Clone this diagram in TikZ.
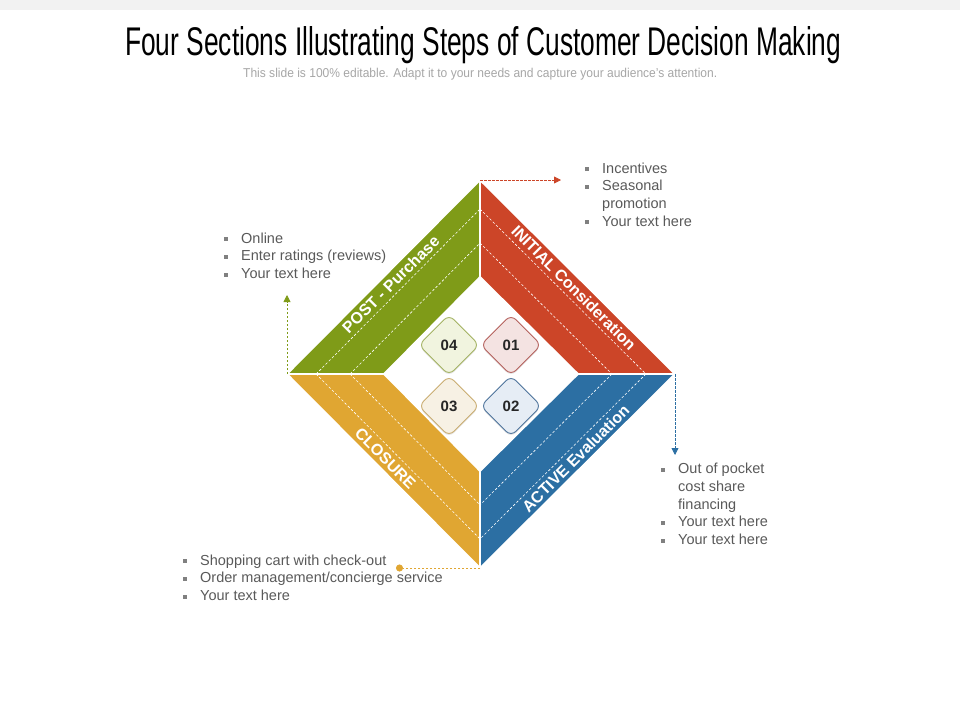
\documentclass[tikz,border=0pt]{standalone}
\usepackage{fontspec}
\setmainfont{Liberation Sans}
\usetikzlibrary{calc,shapes.geometric,arrows.meta,shadows}
\definecolor{postgreen}{HTML}{7F9B18}
\definecolor{initred}{HTML}{CC4528}
\definecolor{activeblue}{HTML}{2C6FA3}
\definecolor{closeyellow}{HTML}{E0A632}
\definecolor{notegray}{HTML}{595959}
\definecolor{bulletgray}{HTML}{808080}
\definecolor{subgray}{HTML}{A6A6A6}
\definecolor{bargray}{HTML}{F2F2F2}
\definecolor{numgray}{HTML}{262626}
\definecolor{greenlight}{HTML}{F1F4DF}
\definecolor{redlight}{HTML}{F4E3E2}
\definecolor{yellowlight}{HTML}{F7F1E4}
\definecolor{bluelight}{HTML}{E6EDF5}
\definecolor{greenedge}{HTML}{A3B262}
\definecolor{rededge}{HTML}{B4605C}
\definecolor{yellowedge}{HTML}{C9AC70}
\definecolor{blueedge}{HTML}{4D739B}
\newcommand{\sqbullet}{\makebox[17pt][l]{\textcolor{bulletgray}{\rule[2pt]{4pt}{4pt}}}}
\newcommand{\sqgap}{\hspace*{17pt}}
\tikzset{
  band/.style={fill=#1, draw=white, line width=1.8pt},
  bandline/.style={draw=white, line width=0.6pt, dash pattern=on 2.5pt off 2pt},
  bandlabel/.style={text=white, font=\bfseries\fontsize{16}{16}\selectfont, inner sep=0pt},
  stepnum/.style={diamond, draw=#1edge, fill=#1light, line width=0.9pt,
    rounded corners=7pt, minimum width=61pt, minimum height=61pt, inner sep=0pt,
    text=numgray, font=\bfseries\fontsize{15}{15}\selectfont,
    drop shadow={shadow xshift=0pt, shadow yshift=-1.5pt, opacity=0.2}},
  note/.style={anchor=base west, align=left, inner sep=0pt, text=notegray,
    font=\fontsize{14.5}{17.8}\selectfont},
  link/.style={draw=#1, dash pattern=on 2.5pt off 1.5pt, line width=0.8pt},
  tip/.style={-{Triangle[length=7pt,width=7pt]}}
}
\begin{document}
\begin{tikzpicture}[x=1pt, y=-1pt]
  \useasboundingbox (0,0) rectangle (960,720);
  \fill[bargray] (0,0) rectangle (960,10);
  \node[anchor=base west, inner sep=0pt] (title) at (125,55)
    {\resizebox{716pt}{29pt}{Four Sections Illustrating Steps of Customer Decision Making}};
  \node[anchor=base west, inner sep=0pt, text=subgray] (subtitle) at (243,77)
    {\resizebox{474pt}{9.3pt}{This slide is 100\% editable. Adapt it to your needs and capture your audience's attention.}};

  \coordinate (T) at (480,180);
  \coordinate (R) at (675,374);
  \coordinate (B) at (480,568);
  \coordinate (L) at (287,374);
  \coordinate (t) at (480,277);
  \coordinate (r) at (578,374);
  \coordinate (b) at (480,471);
  \coordinate (l) at (384,374);

  \def \Bands{
    post/postgreen/L/l/T/t/45/0.5/POST - Purchase,
    initial/initred/T/t/R/r/-45/0.52/INITIAL Consideration,
    active/activeblue/R/r/B/b/45/0.47/ACTIVE Evaluation,
    closure/closeyellow/L/l/B/b/-45/0.47/CLOSURE}
  \foreach \id / \c / \oa / \ia / \ob / \ib / \ang / \pos / \txt in \Bands{
    \path[band=\c] (\oa) -- (\ob) -- (\ib) -- (\ia) -- cycle;
    \foreach \f in {0.3,0.65}{
      \path[bandline] ($(\oa)!\f!(\ia)$) -- ($(\ob)!\f!(\ib)$);
    }
    \coordinate (\id-p) at ($(\oa)!0.15!(\ia)$);
    \coordinate (\id-q) at ($(\ob)!0.15!(\ib)$);
    \node[bandlabel, rotate=\ang] (\id) at ($(\id-p)!\pos!(\id-q)$) {\txt};
  }

  \def \Steps{
    04/449/345/green,
    01/511/345/red,
    03/449/406/yellow,
    02/511/406/blue}
  \foreach \id / \x / \y / \c in \Steps{
    \node[stepnum=\c] (s\id) at (\x, \y) {\id};
  }

  \coordinate (post-end) at (287,295);
  \coordinate (initial-end) at (561,180);
  \coordinate (active-end) at (675,455);
  \coordinate (closure-end) at (396,568);
  \draw[link=postgreen, tip] (L) -- (post-end);
  \draw[link=initred, tip] (T) -- (initial-end);
  \draw[link=activeblue, tip] (R) -- (active-end);
  \draw[link=closeyellow, -{Circle[length=7pt]}] (B) -- (closure-end);

  \node[note] (note-initial) at (585,226.4)
    {\sqbullet Incentives\\\sqbullet Seasonal\\\sqgap promotion\\\sqbullet Your text here};
  \node[note] (note-post) at (224,278.6)
    {\sqbullet Online\\\sqbullet Enter ratings (reviews)\\\sqbullet Your text here};
  \node[note] (note-active) at (661,544.7)
    {\sqbullet Out of pocket\\\sqgap cost share\\\sqgap financing\\\sqbullet Your text here\\\sqbullet Your text here};
  \node[note] (note-closure) at (183,600.6)
    {\sqbullet Shopping cart with check-out\\\sqbullet Order management/concierge service\\\sqbullet Your text here};
\end{tikzpicture}
\end{document}
